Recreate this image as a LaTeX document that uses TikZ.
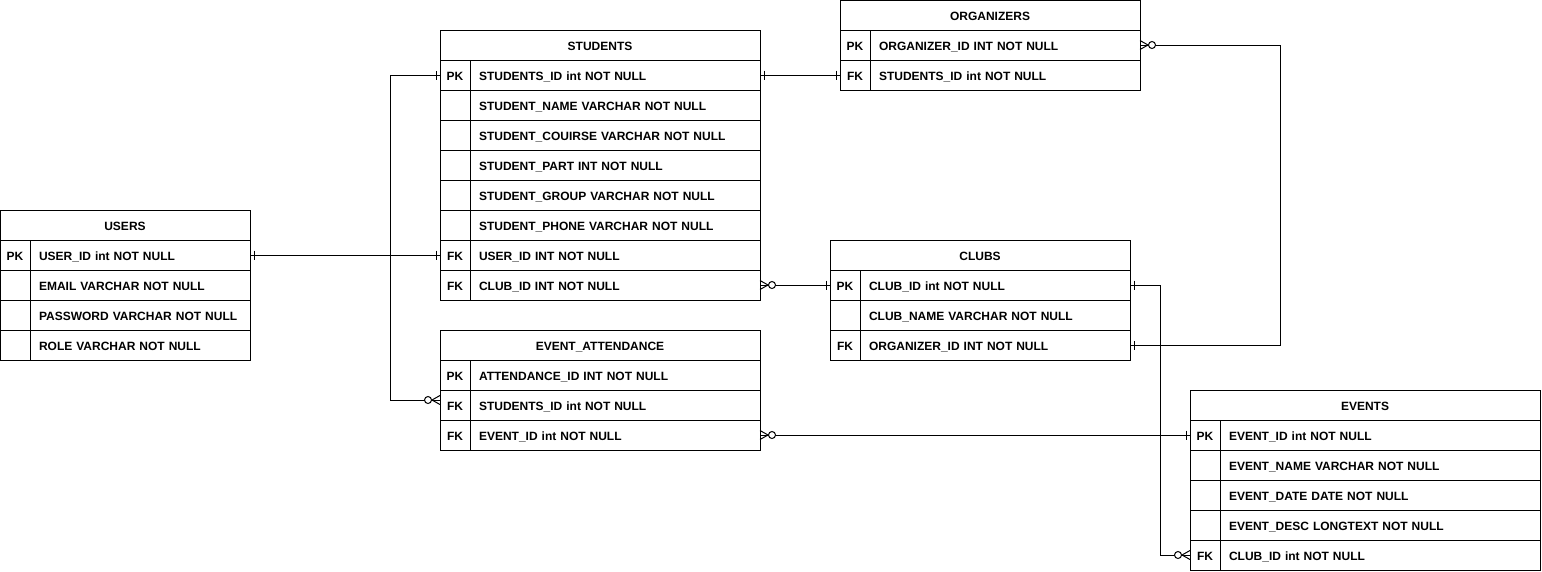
\documentclass[tikz,border=0pt]{standalone}
\usepackage{fontspec}
\setmainfont{Liberation Sans}
\usetikzlibrary{positioning, decorations.markings}

\tikzset{
  hdr/.style={draw, minimum height=30pt, inner sep=0pt, outer sep=0pt,
    font=\bfseries\fontsize{12}{14}\selectfont, text height=11pt, text depth=1pt},
  keycell/.style={draw, minimum width=30pt, minimum height=30pt, inner sep=0pt, outer sep=0pt,
    font=\bfseries\fontsize{12}{14}\selectfont, text height=11pt, text depth=1pt},
  fldcell/.style={draw, anchor=west, minimum height=30pt, inner xsep=9pt, inner ysep=0pt,
    outer sep=0pt, align=left, font=\bfseries\fontsize{12}{14}\selectfont,
    text height=11pt, text depth=1pt},
  one start/.style={postaction={decorate, decoration={markings,
    mark=at position 0 with {\draw (4,-4.5) -- (4,4.5);}}}},
  one end/.style={postaction={decorate, decoration={markings,
    mark=at position 1 with {\draw (-4,-4.5) -- (-4,4.5);}}}},
  many start/.style={postaction={decorate, decoration={markings,
    mark=at position 0 with {\draw (0,-4.5) -- (8,0) -- (0,4.5);
      \draw[fill=white] (12,0) circle (3.5pt);}}}},
  many end/.style={postaction={decorate, decoration={markings,
    mark=at position 1 with {\draw (0,-4.5) -- (-8,0) -- (0,4.5);
      \draw[fill=white] (-12,0) circle (3.5pt);}}}}
}

\begin{document}
\begin{tikzpicture}[x=1pt, y=-1pt, line width=1pt]
    \fill[white] (0,0) rectangle (1542,571);
    \useasboundingbox (0,0) rectangle (1542,571);

    % USERS
    \node[hdr, minimum width=250pt] (usr) at (125,225) {USERS};
    \foreach \k/\t [count=\i] in {PK/USER\_ID int NOT NULL, /EMAIL VARCHAR NOT NULL,
        /PASSWORD VARCHAR NOT NULL, /ROLE VARCHAR NOT NULL} {
        \node[keycell] (usrk\i) at (15,225+30*\i) {\k};
        \node[fldcell, text width=202pt] (usrf\i) at (usrk\i.east) {\t};
    }

    % STUDENTS
    \node[hdr, minimum width=320pt] (stu) at (600,45) {STUDENTS};
    \foreach \k/\t [count=\i] in {PK/STUDENTS\_ID int NOT NULL, /STUDENT\_NAME VARCHAR NOT NULL,
        /STUDENT\_COUIRSE VARCHAR NOT NULL, /STUDENT\_PART INT NOT NULL,
        /STUDENT\_GROUP VARCHAR NOT NULL, /STUDENT\_PHONE VARCHAR NOT NULL,
        FK/USER\_ID INT NOT NULL, FK/CLUB\_ID INT NOT NULL} {
        \node[keycell] (stuk\i) at (455,45+30*\i) {\k};
        \node[fldcell, text width=272pt] (stuf\i) at (stuk\i.east) {\t};
    }

    % ORGANIZERS
    \node[hdr, minimum width=300pt] (org) at (990,15.5) {ORGANIZERS};
    \foreach \k/\t [count=\i] in {PK/ORGANIZER\_ID INT NOT NULL, FK/STUDENTS\_ID int NOT NULL} {
        \node[keycell] (orgk\i) at (855,15+30*\i) {\k};
        \node[fldcell, text width=252pt] (orgf\i) at (orgk\i.east) {\t};
    }

    % CLUBS
    \node[hdr, minimum width=300pt] (clb) at (980,255) {CLUBS};
    \foreach \k/\t [count=\i] in {PK/CLUB\_ID int NOT NULL, /CLUB\_NAME VARCHAR NOT NULL,
        FK/ORGANIZER\_ID INT NOT NULL} {
        \node[keycell] (clbk\i) at (845,255+30*\i) {\k};
        \node[fldcell, text width=252pt] (clbf\i) at (clbk\i.east) {\t};
    }

    % EVENT_ATTENDANCE
    \node[hdr, minimum width=320pt] (att) at (600,345) {EVENT\_ATTENDANCE};
    \foreach \k/\t [count=\i] in {PK/ATTENDANCE\_ID INT NOT NULL, FK/STUDENTS\_ID int NOT NULL,
        FK/EVENT\_ID int NOT NULL} {
        \node[keycell] (attk\i) at (455,345+30*\i) {\k};
        \node[fldcell, text width=272pt] (attf\i) at (attk\i.east) {\t};
    }

    % EVENTS
    \node[hdr, minimum width=350pt] (evt) at (1365,405) {EVENTS};
    \foreach \k/\t [count=\i] in {PK/EVENT\_ID int NOT NULL, /EVENT\_NAME VARCHAR NOT NULL,
        /EVENT\_DATE DATE NOT NULL, /EVENT\_DESC LONGTEXT NOT NULL, FK/CLUB\_ID int NOT NULL} {
        \node[keycell] (evtk\i) at (1205,405+30*\i) {\k};
        \node[fldcell, text width=302pt] (evtf\i) at (evtk\i.east) {\t};
    }

    % Relationships
    \draw[one start, one end] (stuf1.east) -- (orgk2.west);
    \draw[one start, one end] (usrf1.east) -- (stuk7.west);
    \draw[one start, many end] (stuk1.west) -- ++(-50,0) |- ([yshift=5pt]attk2.west);
    \draw[many start, one end] (stuf8.east) -- (clbk1.west);
    \draw[many start, one end] (orgf1.east) -- ++(140,0) |- (clbf3.east);
    \draw[many start, one end] (attf3.east) -- (evtk1.west);
    \draw[one start, many end] (clbf1.east) -- ++(30,0) |- (evtk5.west);
\end{tikzpicture}
\end{document}
